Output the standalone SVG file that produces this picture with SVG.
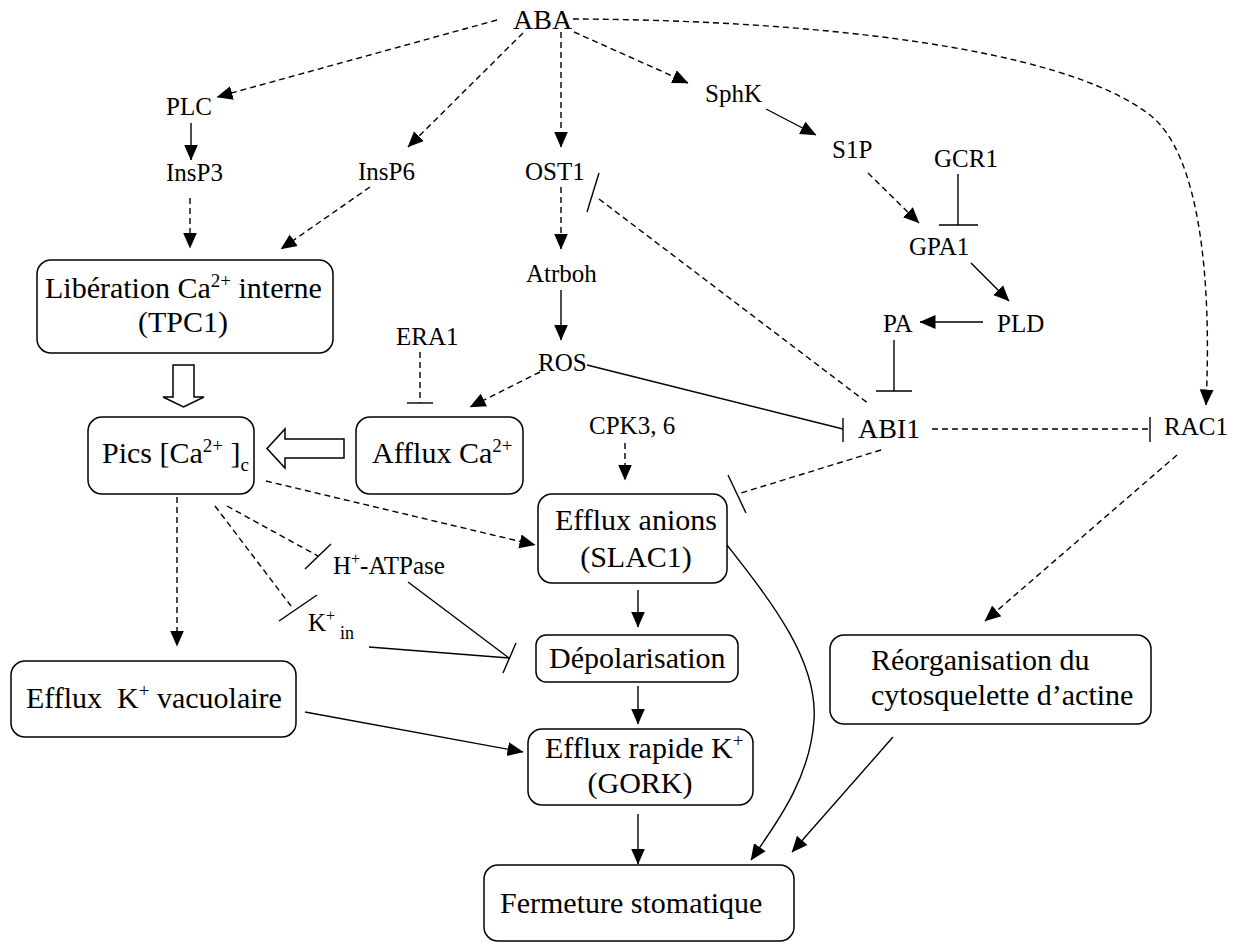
<svg xmlns="http://www.w3.org/2000/svg" width="1239" height="943" viewBox="0 0 1239 943">
<style>
  text { font-family: "Liberation Serif", "Times New Roman", serif; fill: #000; }
  .lbl { font-size: 25px; }
  .big { font-size: 28px; }
  .box-t { font-size: 30px; }
  .box { fill: #fff; stroke: #000; stroke-width: 1.5; }
  .ln { fill: none; stroke: #000; stroke-width: 1.4; }
  .dash { stroke-dasharray: 6 4; }
  .arr { marker-end: url(#ah); }
  .hollow { fill: #fff; stroke: #000; stroke-width: 1.5; stroke-linejoin: miter; }
</style>
<defs>
  <marker id="ah" markerUnits="userSpaceOnUse" markerWidth="16" markerHeight="16" viewBox="0 0 16 16" refX="15.5" refY="8" orient="auto">
    <path d="M0,1 L16,8 L0,15 z" fill="#000"/>
  </marker>
</defs>
<rect width="1239" height="943" fill="#fff"/>

<g id="connectors">
  <!-- dashed activating arrows -->
  <path class="ln dash arr" d="M497,20 L217,97"/>
  <path class="ln dash arr" d="M523,33 L408,147"/>
  <path class="ln dash arr" d="M561,32 L561,147"/>
  <path class="ln dash arr" d="M574,32 L688,83"/>
  <path class="ln dash arr" d="M573,19 C800,20 1060,45 1150,115 C1200,154 1212,280 1206,405"/>
  <path class="ln dash arr" d="M561,187 L561,249"/>
  <path class="ln dash arr" d="M190,198 L190,248"/>
  <path class="ln dash arr" d="M370,187 L281,249"/>
  <path class="ln dash arr" d="M868,173 L919,223"/>
  <path class="ln dash arr" d="M540,372 L470,407"/>
  <path class="ln dash arr" d="M625,443 L625,480"/>
  <path class="ln dash arr" d="M266,481 L535,545"/>
  <path class="ln dash arr" d="M177,497 L177,646"/>
  <path class="ln dash arr" d="M1177,455 L985,621"/>
  <!-- solid activating arrows -->
  <path class="ln arr" d="M191,123 L191,160"/>
  <path class="ln arr" d="M561,290 L561,340"/>
  <path class="ln arr" d="M766,109 L816,135"/>
  <path class="ln arr" d="M971,263 L1009,301"/>
  <path class="ln arr" d="M983,322 L920,322"/>
  <path class="ln arr" d="M638,590 L638,627"/>
  <path class="ln arr" d="M638,686 L638,724"/>
  <path class="ln arr" d="M638,814 L638,864"/>
  <path class="ln arr" d="M305,712 L523,752"/>
  <path class="ln arr" d="M893,737 L792,852"/>
  <path class="ln arr" d="M727,545 C770,600 818,660 814,720 C810,780 775,825 751,860"/>
  <!-- inhibitions -->
  <path class="ln dash" d="M599,199 L869,404"/>
  <path class="ln" d="M599,173 L587,212"/>
  <path class="ln" d="M958,174 L958,225 M939,225 L978,225"/>
  <path class="ln" d="M894,340 L894,391 M876,391 L912,391"/>
  <path class="ln dash" d="M420,352 L420,403"/>
  <path class="ln" d="M407,403 L433,403"/>
  <path class="ln" d="M587,365 L843,429 M843,418 L843,442"/>
  <path class="ln dash" d="M932,429 L1150,429"/>
  <path class="ln" d="M1150,417 L1150,442"/>
  <path class="ln dash" d="M881,450 L741,493"/>
  <path class="ln" d="M728,475 L746,513"/>
  <path class="ln dash" d="M227,506 L318,556"/>
  <path class="ln" d="M331,544 L305,569"/>
  <path class="ln dash" d="M215,506 L291,606"/>
  <path class="ln" d="M317,595 L279,621"/>
  <path class="ln" d="M408,582 L509,658"/>
  <path class="ln" d="M369,647 L509,658 M516,643 L503,673"/>
  <!-- hollow arrows -->
  <polygon class="hollow" points="173,365 194,365 194,397 204,397 183.5,407 163,397 173,397"/>
  <polygon class="hollow" points="344,439 285,439 285,429 267,448.5 285,468 285,458 344,458"/>
</g>

<g id="ABA"><text class="big" x="513" y="29">ABA</text></g>
<g id="PLC"><text class="lbl" x="166" y="115">PLC</text></g>
<g id="InsP3"><text class="lbl" x="166" y="181">InsP3</text></g>
<g id="InsP6"><text class="lbl" x="358" y="180">InsP6</text></g>
<g id="OST1"><text class="lbl" x="525" y="180">OST1</text></g>
<g id="SphK"><text class="lbl" x="705" y="102">SphK</text></g>
<g id="S1P"><text class="lbl" x="832" y="158">S1P</text></g>
<g id="GCR1"><text class="lbl" x="934" y="167">GCR1</text></g>
<g id="GPA1"><text class="lbl" x="909" y="255">GPA1</text></g>
<g id="PLD"><text class="lbl" x="997" y="332">PLD</text></g>
<g id="PA"><text class="lbl" x="883" y="332">PA</text></g>
<g id="Atrboh"><text class="lbl" x="526" y="282">Atrboh</text></g>
<g id="ROS"><text class="lbl" x="538" y="371">ROS</text></g>
<g id="ERA1"><text class="lbl" x="396" y="345">ERA1</text></g>
<g id="CPK36"><text class="lbl" x="589" y="434">CPK3, 6</text></g>
<g id="ABI1"><text class="big" x="858" y="438">ABI1</text></g>
<g id="RAC1"><text class="lbl" x="1164" y="435">RAC1</text></g>
<g id="HATPase"><text class="lbl" x="333" y="574">H<tspan font-size="16" dy="-10">+</tspan><tspan dy="10">-ATPase</tspan></text></g>
<g id="Kin"><text class="lbl" x="308" y="631">K<tspan font-size="16" dy="-10">+</tspan></text><text font-size="18" x="340" y="639">in</text></g>

<g id="liberation">
  <rect class="box" x="37" y="260" width="296" height="93" rx="14"/>
  <text class="box-t" x="45" y="298">Libération Ca<tspan font-size="19" dy="-11">2+</tspan><tspan dy="11"> interne</tspan></text>
  <text class="box-t" x="183" y="332" text-anchor="middle">(TPC1)</text>
</g>
<g id="pics">
  <rect class="box" x="88" y="417" width="166" height="77" rx="14"/>
  <text class="box-t" x="102" y="463">Pics [Ca<tspan font-size="19" dy="-11">2+</tspan><tspan dy="11"> ]</tspan><tspan font-size="19" dy="8">c</tspan></text>
</g>
<g id="afflux">
  <rect class="box" x="356" y="417" width="167" height="77" rx="14"/>
  <text class="box-t" x="372" y="463">Afflux Ca<tspan font-size="19" dy="-11">2+</tspan></text>
</g>
<g id="slac1">
  <rect class="box" x="538" y="494" width="189" height="89" rx="14"/>
  <text class="box-t" x="555" y="530">Efflux anions</text>
  <text class="box-t" x="636" y="567" text-anchor="middle">(SLAC1)</text>
</g>
<g id="depol">
  <rect class="box" x="536" y="635" width="202" height="47" rx="10"/>
  <text class="box-t" x="549" y="668">Dépolarisation</text>
</g>
<g id="gork">
  <rect class="box" x="528" y="729" width="225" height="76" rx="14"/>
  <text class="box-t" x="545" y="758">Efflux rapide K<tspan font-size="19" dy="-11">+</tspan></text>
  <text class="box-t" x="640" y="793" text-anchor="middle">(GORK)</text>
</g>
<g id="effluxK">
  <rect class="box" x="11" y="661" width="285" height="76" rx="14"/>
  <text class="box-t" x="26" y="708" xml:space="preserve">Efflux  K<tspan font-size="19" dy="-11">+</tspan><tspan dy="11"> vacuolaire</tspan></text>
</g>
<g id="reorg">
  <rect class="box" x="830" y="635" width="321" height="89" rx="14"/>
  <text class="box-t" x="871" y="670">Réorganisation du</text>
  <text class="box-t" x="871" y="705">cytosquelette d’actine</text>
</g>
<g id="fermeture">
  <rect class="box" x="484" y="865" width="310" height="76" rx="14"/>
  <text class="box-t" x="500" y="913">Fermeture stomatique</text>
</g>
</svg>
